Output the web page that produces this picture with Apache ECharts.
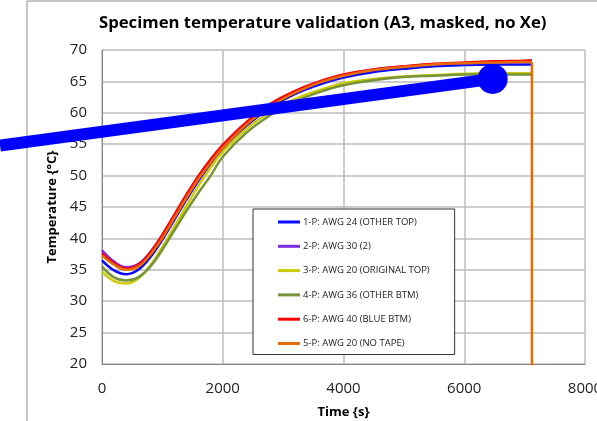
<!DOCTYPE html>
<html>
<head>
<meta charset="utf-8">
<script src="https://cdn.jsdelivr.net/npm/echarts@6/dist/echarts.min.js"></script>
<style>
  html, body { margin: 0; padding: 0; background: #fff; }
  #chart { width: 597px; height: 421px; }
</style>
</head>
<body>
<div id="chart"></div>
<script>
// Specimen temperature validation
const times = [0, 200, 400, 600, 800, 1000, 1200, 1400, 1600, 1800, 2000, 2400, 2800,
  3200, 3600, 4000, 4500, 5000, 5500, 6000, 6500, 7000, 7120];

const awg24OtherTop = [36.5, 34.9, 34.3, 35.0, 37.0, 39.8, 43.0, 46.2, 49.2, 51.9, 54.2, 58.0, 60.9,
  63.0, 64.5, 65.6, 66.5, 67.0, 67.4, 67.6, 67.7, 67.7, 67.7];
const awg30 = [38.1, 36.3, 35.4, 35.9, 37.8, 40.5, 43.6, 46.8, 49.8, 52.4, 54.7, 58.4, 61.3,
  63.4, 64.9, 66.0, 66.9, 67.4, 67.7, 67.9, 68.0, 68.1, 68.1];
const awg20OriginalTop = [34.7, 33.2, 32.8, 33.6, 35.7, 38.6, 41.9, 45.2, 48.4, 51.3, 53.8, 57.5, 60.2,
  62.2, 63.6, 64.7, 65.4, 65.8, 66.0, 66.2, 66.3, 66.3, 66.3];
const awg36OtherBtm = [35.5, 33.8, 33.3, 33.8, 35.5, 38.2, 41.3, 44.4, 47.3, 50.0, 53.0, 56.9, 59.7,
  61.8, 63.3, 64.4, 65.2, 65.7, 65.9, 66.1, 66.1, 66.1, 66.1];
const awg40BlueBtm = [37.6, 36.0, 35.2, 35.8, 37.8, 40.6, 43.8, 47.0, 50.0, 52.6, 54.9, 58.6, 61.5,
  63.5, 65.0, 66.1, 66.9, 67.4, 67.8, 68.0, 68.2, 68.3, 68.35];
const awg20NoTape = [37.3, 35.8, 35.0, 35.5, 37.4, 40.1, 43.3, 46.5, 49.5, 52.1, 54.4, 58.2, 61.1,
  63.2, 64.8, 65.9, 66.8, 67.3, 67.7, 67.9, 68.0, 68.1, 68.1];
// orange trace drops at the end of the run
const noTapeDrop = [[7120, 68.1], [7120, 0]];

// thick blue pointer drawn over the chart, starts left of the plot
const pointer = [[-1689, 54.8], [6470, 65.4]];

const seriesNames = [
  '1-P: AWG 24 (OTHER TOP)',
  '2-P: AWG 30 (2)',
  '3-P: AWG 20 (ORIGINAL TOP)',
  '4-P: AWG 36 (OTHER BTM)',
  '6-P: AWG 40 (BLUE BTM)',
  '5-P: AWG 20 (NO TAPE)'
];
const seriesValues = [awg24OtherTop, awg30, awg20OriginalTop, awg36OtherBtm, awg40BlueBtm, awg20NoTape];
const seriesColors = ['#0a0aff', '#7a2ee0', '#cccc00', '#77933c', '#ff0000', '#e46c0a'];

const toPairs = vals => vals.map((v, i) => [times[i], v]);

const myChart = echarts.init(document.getElementById('chart'));

const series = seriesNames.map((name, i) => ({
  name: name,
  type: 'line',
  data: toPairs(seriesValues[i]),
  smooth: 0.4,
  showSymbol: false,
  color: seriesColors[i],
  lineStyle: { width: 2.5, color: seriesColors[i] }
}));

series.push({
  name: seriesNames[5],
  type: 'line',
  data: noTapeDrop,
  showSymbol: false,
  color: seriesColors[5],
  lineStyle: { width: 2.5, color: seriesColors[5] }
});

// the pointer lives on a hidden copy of the axes that reaches the left edge,
// same scale as the main plot (483 px per 8000 s)
series.push({
  name: 'pointer',
  type: 'line',
  xAxisIndex: 1,
  yAxisIndex: 1,
  data: pointer,
  clip: false,
  z: 10,
  symbol: 'circle',
  symbolSize: (val, params) => (params.dataIndex === 1 ? 30 : 0),
  showSymbol: true,
  itemStyle: { color: '#0000ff' },
  lineStyle: { width: 12, color: '#0000ff', cap: 'butt' }
});

const option = {
  animation: false,
  backgroundColor: '#fff',
  textStyle: { fontFamily: 'Open Sans' },
  graphic: [{
    type: 'rect',
    z: -10,
    shape: { x: 27, y: 1, width: 600, height: 460 },
    style: { fill: 'none', stroke: '#8c8c8c', lineWidth: 1 }
  }],
  title: {
    text: 'Specimen temperature validation (A3, masked, no Xe)',
    left: 94,
    top: 10,
    textStyle: { fontFamily: 'Open Sans', fontSize: 16.7, fontWeight: 'bold', color: '#000' }
  },
  grid: [
    { left: 102, right: 12, top: 50, bottom: 57, outerBoundsMode: 'none' },
    { left: 0, right: 12, top: 50, bottom: 57, outerBoundsMode: 'none' }
  ],
  legend: {
    data: seriesNames,
    orient: 'vertical',
    left: 253,
    top: 209,
    padding: [7, 25, 5, 25],
    itemGap: 12.3,
    itemWidth: 22,
    itemHeight: 3,
    icon: 'rect',
    backgroundColor: '#fff',
    borderColor: '#333',
    borderWidth: 1,
    borderRadius: 0,
    textStyle: { fontFamily: 'Open Sans', fontSize: 9.5, lineHeight: 12, color: '#222', padding: [0, 0, 0, -2] }
  },
  xAxis: [{
    type: 'value',
    gridIndex: 0,
    min: 0,
    max: 8000,
    interval: 2000,
    name: 'Time {s}',
    nameLocation: 'middle',
    nameGap: 42,
    nameTextStyle: { fontFamily: 'Open Sans', fontSize: 13, fontWeight: 'bold', color: '#000' },
    axisLine: { show: true, lineStyle: { color: '#868686', width: 1 } },
    axisTick: { show: false },
    axisLabel: {
      fontFamily: 'Open Sans', fontSize: 15, color: '#222', margin: 17,
      formatter: v => String(v)
    },
    splitLine: { show: true, lineStyle: { color: '#bdbdbd', width: 1.5 } }
  }, {
    type: 'value',
    gridIndex: 1,
    min: -8000 * 102 / 483,
    max: 8000,
    show: false
  }],
  yAxis: [{
    type: 'value',
    gridIndex: 0,
    min: 20,
    max: 70,
    interval: 5,
    name: 'Temperature {°C}',
    nameLocation: 'middle',
    nameGap: 34,
    nameTextStyle: { fontFamily: 'Open Sans', fontSize: 13, fontWeight: 'bold', color: '#000' },
    axisLine: { show: true, lineStyle: { color: '#868686', width: 1 } },
    axisTick: { show: false },
    axisLabel: { fontFamily: 'Open Sans', fontSize: 15, color: '#222', margin: 15 },
    splitLine: { show: true, lineStyle: { color: '#bdbdbd', width: 1.5 } }
  }, {
    type: 'value',
    gridIndex: 1,
    min: 20,
    max: 70,
    show: false
  }],
  series: series
};

myChart.setOption(option);
</script>
</body>
</html>
